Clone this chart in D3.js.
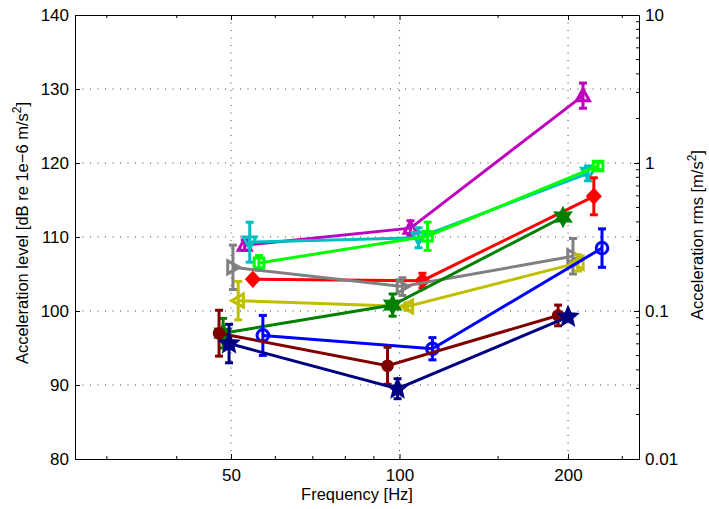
<!DOCTYPE html>
<html><head><meta charset="utf-8">
<script src="https://cdn.jsdelivr.net/npm/d3@7"></script>
<style>body{margin:0;background:#fff}svg{display:block}text{font-family:"Liberation Sans",Arial,sans-serif;fill:#000}</style>
</head><body><svg id="c" width="709" height="509"></svg>
<script>
// ---- data ----
const xTicks = [50, 100, 200];
const yTicksLeft = [80, 90, 100, 110, 120, 130, 140];
const yTicksRight = [0.01, 0.1, 1, 10];
const yTickRightLabels = ["0.01", "0.1", "1", "10"];
const seriesNames = ["magenta", "cyan", "green", "red", "gray", "yellow", "darkgreen", "blue", "darkred", "navy"];
const seriesFreqs = [
  [52.9, 104.6, 212.7],
  [54.0, 108.1, 217.2],
  [56.1, 112.2, 226.3],
  [54.7, 109.9, 222.4],
  [50.4, 101.2, 204.1],
  [51.5, 103.3, 208.3],
  [48.4, 97.2, 195.9],
  [57.0, 114.5, 230.0],
  [47.6, 95.2, 192.0],
  [49.6, 99.2, 200.0]
];
const seriesLevels = [
  [108.9, 111.2, 129.1],
  [109.3, 109.9, 118.6],
  [106.5, 110.1, 119.6],
  [104.3, 104.1, 115.5],
  [105.9, 103.3, 107.4],
  [101.4, 100.6, 106.5],
  [97.0, 100.8, 112.7],
  [96.7, 94.9, 108.5],
  [97.0, 92.6, 99.4],
  [95.6, 89.5, 99.2]
];
const seriesErrors = [
  [0.7, 1.0, 1.7],
  [2.7, 1.35, 1.0],
  [1.0, 1.9, 0.5],
  [0.3, 1.0, 2.5],
  [3.0, 1.2, 2.4],
  [2.6, 0.5, 1.1],
  [2.0, 1.5, 0.3],
  [2.7, 1.5, 2.6],
  [3.1, 2.5, 1.4],
  [2.6, 1.35, 0.4]
];
// ---- styles ----
const seriesColors = ["#bf00bf", "#00bfbf", "#00ff00", "#ff0000", "#808080", "#bfbf00", "#008000", "#0000ff", "#800000", "#000080"];
const seriesMarkers = ["triUp", "triDown", "square", "diamond", "triRight", "triLeft", "hexagram", "circle", "dot", "pentagram"];

const L = 75, R = 639, T = 15, B = 459;
const svg = d3.select("#c");
const x = d3.scaleLog().domain([26.32, 267.8]).range([L, R]);
const y = d3.scaleLinear().domain([80, 140]).range([B, T]);
const yR = d3.scaleLog().domain([0.01, 10]).range([B, T]);

// grid
const g = svg.append("g");
yTicksLeft.filter(v => v > 80 && v < 140).forEach(v => {
  g.append("line").attr("x1", L).attr("x2", R).attr("y1", y(v)).attr("y2", y(v))
    .attr("stroke", "#444").attr("stroke-width", 1).attr("stroke-dasharray", "1,6.5");
});
xTicks.forEach(v => {
  g.append("line").attr("x1", x(v)).attr("x2", x(v)).attr("y1", T).attr("y2", B)
    .attr("stroke", "#444").attr("stroke-width", 1).attr("stroke-dasharray", "1,6.5");
});

// axes
const ax = svg.append("g");
const axBottom = d3.axisBottom(x).tickValues(xTicks).tickFormat(d3.format("d")).tickSizeInner(-5).tickSizeOuter(0).tickPadding(10);
const axTop = d3.axisTop(x).tickValues(xTicks).tickFormat("").tickSizeInner(-5).tickSizeOuter(0);
const axLeft = d3.axisLeft(y).tickValues(yTicksLeft).tickSizeInner(-5).tickSizeOuter(0).tickPadding(6);
const axRight = d3.axisRight(yR).tickValues(yTicksRight).tickFormat((d, i) => yTickRightLabels[i]).tickSizeInner(-5).tickSizeOuter(0).tickPadding(6);
function styleAxis(sel) {
  sel.select(".domain").attr("stroke", "#000").attr("stroke-width", 1);
  sel.selectAll(".tick line").attr("stroke", "#000");
  sel.selectAll("text").attr("font-size", 17).attr("font-family", "Liberation Sans, Arial, sans-serif").attr("fill", "#000");
}
ax.append("g").attr("transform", `translate(0,${B})`).call(axBottom).call(styleAxis);
ax.append("g").attr("transform", `translate(0,${T})`).call(axTop).call(styleAxis);
ax.append("g").attr("transform", `translate(${L},0)`).call(axLeft).call(styleAxis);
ax.append("g").attr("transform", `translate(${R},0)`).call(axRight).call(styleAxis);

// minor ticks (log)
const xMinor = [30, 40, 60, 70, 80, 90, 150, 250];
const yMinor = [];
[0.01, 0.1, 1].forEach(d => { for (let k = 2; k <= 9; k++) yMinor.push(d * k); });
xMinor.forEach(v => {
  ax.append("line").attr("x1", x(v)).attr("x2", x(v)).attr("y1", B).attr("y2", B - 3).attr("stroke", "#000");
  ax.append("line").attr("x1", x(v)).attr("x2", x(v)).attr("y1", T).attr("y2", T + 3).attr("stroke", "#000");
});
yMinor.forEach(v => {
  ax.append("line").attr("x1", R).attr("x2", R - 3).attr("y1", yR(v)).attr("y2", yR(v)).attr("stroke", "#000");
});

// labels
svg.append("text").attr("x", (L + R) / 2).attr("y", 500).attr("text-anchor", "middle").attr("font-size", 16.5).text("Frequency [Hz]");
const yl = svg.append("text").attr("transform", `translate(28,233) rotate(-90)`).attr("text-anchor", "middle").attr("font-size", 16.5);
yl.append("tspan").text("Acceleration level [dB re 1e\u22126 m/s");
yl.append("tspan").attr("dy", -7).attr("font-size", 12).text("2");
yl.append("tspan").attr("dy", 7).text("]");
const yr = svg.append("text").attr("transform", `translate(703,235) rotate(-90)`).attr("text-anchor", "middle").attr("font-size", 16.5);
yr.append("tspan").text("Acceleration rms [m/s");
yr.append("tspan").attr("dy", -7).attr("font-size", 12).text("2");
yr.append("tspan").attr("dy", 7).text("]");

// markers
function starPath(n, ro, ri) {
  const p = [];
  for (let i = 0; i < 2 * n; i++) {
    const rr = i % 2 === 0 ? ro : ri;
    const a = -Math.PI / 2 + i * Math.PI / n;
    p.push([rr * Math.cos(a), rr * Math.sin(a)]);
  }
  return "M" + p.map(q => q.join(",")).join("L") + "Z";
}
function poly(pts) { return "M" + pts.map(q => q.join(",")).join("L") + "Z"; }
const mr = 6.5;
const markerPaths = {
  triUp: poly([[0, -mr], [mr, mr * 0.8], [-mr, mr * 0.8]]),
  triDown: poly([[0, mr], [mr, -mr * 0.8], [-mr, -mr * 0.8]]),
  triRight: poly([[mr, 0], [-mr * 0.8, -mr], [-mr * 0.8, mr]]),
  triLeft: poly([[-mr, 0], [mr * 0.8, -mr], [mr * 0.8, mr]]),
  square: poly([[-4.8, -4.8], [4.8, -4.8], [4.8, 4.8], [-4.8, 4.8]]),
  diamond: poly([[0, -6.5], [6, 0], [0, 6.5], [-6, 0]]),
  hexagram: starPath(6, 8, 4.3),
  pentagram: starPath(5, 8.5, 3.8),
  circle: d3.arc()({ innerRadius: 0, outerRadius: 5.8, startAngle: 0, endAngle: 2 * Math.PI }),
  dot: d3.arc()({ innerRadius: 0, outerRadius: 4.8, startAngle: 0, endAngle: 2 * Math.PI })
};
const filled = { diamond: true, hexagram: true, pentagram: true, dot: true };

const line = d3.line().x(d => x(d[0])).y(d => y(d[1]));
seriesNames.forEach((name, i) => {
  const col = seriesColors[i];
  const pts = seriesFreqs[i].map((f, j) => [f, seriesLevels[i][j], seriesErrors[i][j]]);
  const s = svg.append("g").attr("class", "series-" + name);
  s.append("path").attr("d", line(pts)).attr("fill", "none").attr("stroke", col).attr("stroke-width", 3);
  pts.forEach(p => {
    const cx = x(p[0]), y1 = y(p[1] - p[2]), y2 = y(p[1] + p[2]);
    s.append("line").attr("x1", cx).attr("x2", cx).attr("y1", y1).attr("y2", y2).attr("stroke", col).attr("stroke-width", 3);
    [y1, y2].forEach(yy => s.append("line").attr("x1", cx - 4).attr("x2", cx + 4).attr("y1", yy).attr("y2", yy).attr("stroke", col).attr("stroke-width", 3));
    const m = seriesMarkers[i];
    s.append("path").attr("d", markerPaths[m]).attr("transform", `translate(${cx},${y(p[1])})`)
      .attr("fill", filled[m] ? col : "none").attr("stroke", col).attr("stroke-width", 3).attr("stroke-linejoin", "miter");
  });
});
</script></body></html>
